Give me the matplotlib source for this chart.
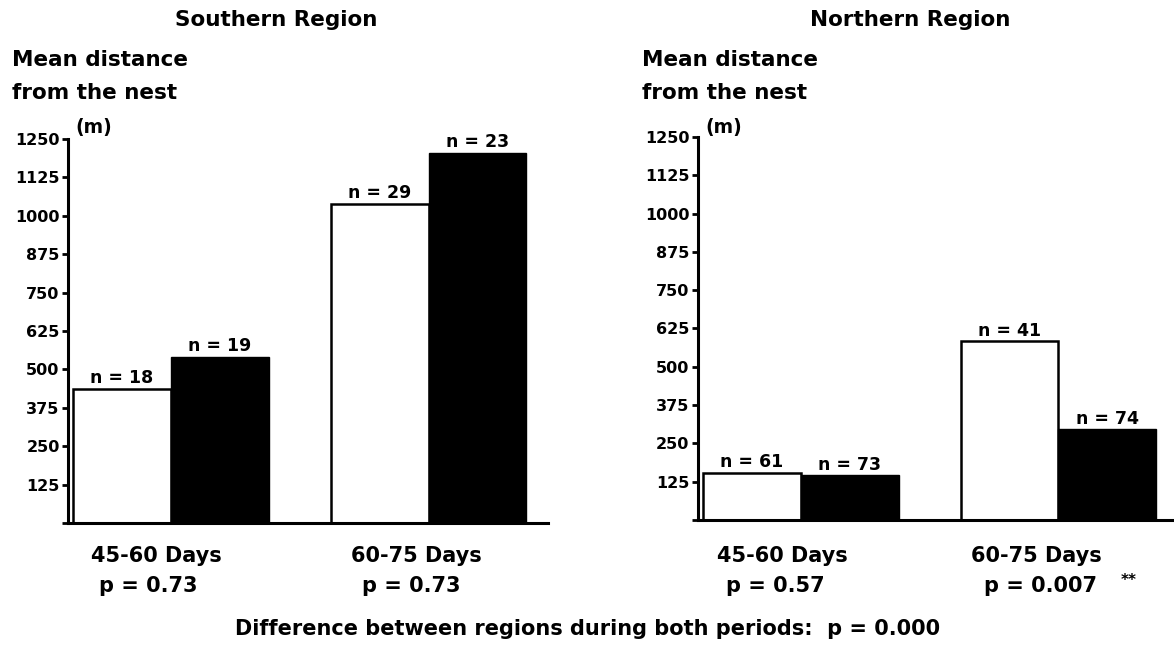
import matplotlib
matplotlib.use("Agg")
import matplotlib.pyplot as plt

# mean distance from the nest (m), white = first group, black = second group
periods = ["45-60 Days", "60-75 Days"]
south_white = [437, 1040]
south_black = [541, 1205]
north_white = [155, 584]
north_black = [147, 296]
south_n_white = [18, 29]
south_n_black = [19, 23]
north_n_white = [61, 41]
north_n_black = [73, 74]
south_p = ["p = 0.73", "p = 0.73"]
north_p = ["p = 0.57", "p = 0.007"]
yticks = list(range(0, 1251, 125))

plt.rcParams["font.family"] = "DejaVu Sans"
plt.rcParams["font.weight"] = "bold"

fig = plt.figure(figsize=(11.74, 6.45), dpi=100)
ax_s = fig.add_axes([0.0579, 0.1891, 0.4089, 0.5953])
ax_n = fig.add_axes([0.5945, 0.1938, 0.4089, 0.5938])

group_x = [0.05, 2.68]


def draw_panel(ax, white, black, n_white, n_black):
    ax.bar(group_x, white, width=1.0, align="edge", color="white",
           edgecolor="black", linewidth=1.8, zorder=2)
    ax.bar([g + 1.0 for g in group_x], black, width=1.0, align="edge",
           color="black", edgecolor="black", linewidth=1.0, zorder=2)
    for g, w, b, nw, nb in zip(group_x, white, black, n_white, n_black):
        ax.annotate(f"n = {nw}", (g + 0.5, w), xytext=(0, 1),
                    textcoords="offset points", ha="center", va="bottom",
                    fontsize=12.5, fontweight="bold")
        ax.annotate(f"n = {nb}", (g + 1.5, b), xytext=(0, 1),
                    textcoords="offset points", ha="center", va="bottom",
                    fontsize=12.5, fontweight="bold")
    ax.set_xlim(0, 4.9)
    ax.set_ylim(0, 1250)
    ax.set_yticks(yticks)
    ax.set_yticklabels([""] + [str(t) for t in yticks[1:]])
    ax.set_xticks([])
    for side in ["top", "right"]:
        ax.spines[side].set_visible(False)
    ax.spines["left"].set_linewidth(2.2)
    ax.spines["bottom"].set_linewidth(2.2)
    ax.tick_params(axis="y", direction="out", length=4, width=2,
                   pad=2, labelsize=11.5)
    for lab in ax.get_yticklabels():
        lab.set_fontweight("bold")


draw_panel(ax_s, south_white, south_black, south_n_white, south_n_black)
draw_panel(ax_n, north_white, north_black, north_n_white, north_n_black)

# titles and y-axis captions
fig.text(276 / 1174, 1 - 20 / 645, "Southern Region", ha="center", va="center",
         fontsize=15.5, fontweight="bold")
fig.text(910 / 1174, 1 - 20 / 645, "Northern Region", ha="center", va="center",
         fontsize=15.5, fontweight="bold")
for x0 in [12, 642]:
    fig.text(x0 / 1174, 1 - 60 / 645, "Mean distance", ha="left", va="center",
             fontsize=15.5, fontweight="bold")
    fig.text(x0 / 1174, 1 - 93 / 645, "from the nest", ha="left", va="center",
             fontsize=15.5, fontweight="bold")
    fig.text((x0 + 63) / 1174, 1 - 128 / 645, "(m)", ha="left", va="center",
             fontsize=13.5, fontweight="bold")

# period labels under each group
for cx, px, per, p in zip([156, 416], [148, 411], periods, south_p):
    fig.text(cx / 1174, 1 - 556 / 645, per, ha="center", va="center",
             fontsize=15, fontweight="bold")
    fig.text(px / 1174, 1 - 586 / 645, p, ha="center", va="center",
             fontsize=15, fontweight="bold")
for cx, px, per, p in zip([782, 1036], [775, 1040], periods, north_p):
    fig.text(cx / 1174, 1 - 556 / 645, per, ha="center", va="center",
             fontsize=15, fontweight="bold")
    fig.text(px / 1174, 1 - 586 / 645, p, ha="center", va="center",
             fontsize=15, fontweight="bold")
fig.text(1129 / 1174, 1 - 581 / 645, "**", ha="center", va="center",
         fontsize=11, fontweight="bold")

fig.text(588 / 1174, 1 - 629 / 645,
         "Difference between regions during both periods:  p = 0.000",
         ha="center", va="center", fontsize=15, fontweight="bold")

fig.savefig("out.png", dpi=100)
